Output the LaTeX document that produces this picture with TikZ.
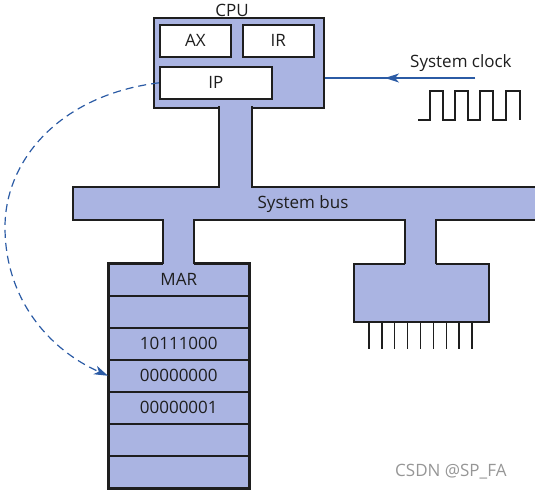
\documentclass[tikz,border=0pt]{standalone}
\usepackage{fontspec}
\setmainfont{Open Sans}
\usetikzlibrary{arrows.meta}
\definecolor{busfill}{RGB}{170,180,226}
\definecolor{linec}{RGB}{30,30,30}
\definecolor{arrowblue}{RGB}{43,91,165}
\definecolor{wmgray}{RGB}{150,150,150}
\begin{document}
\begin{tikzpicture}[x=1pt,y=-1pt,
  font=\fontsize{17}{20}\selectfont,
  outer/.style={draw=linec, line width=2pt, fill=busfill, inner sep=0pt, anchor=north west},
  reg/.style={draw=linec, line width=1.6pt, fill=white, inner sep=0pt, anchor=north west, minimum height=32pt, text=linec},
  cell/.style={draw=linec, line width=1.5pt, fill=busfill, minimum width=140pt, minimum height=32pt, inner sep=0pt, anchor=north west, text=linec},
  side/.style={draw=linec, line width=2pt},
  pin/.style={draw=linec, line width=1.3pt},
  lbl/.style={anchor=base, inner sep=0pt, text=linec},
  blueline/.style={draw=arrowblue, line width=1.2pt},
  tip/.style={-{Stealth[length=14pt,width=9pt,inset=4pt]}}
]
\useasboundingbox (0,0) rectangle (535,490);

% system bus
\fill[busfill] (73,187) rectangle (540,220);
\draw[side] (540,187) -- (73,187) -- (73,220) -- (540,220);
\node[lbl] (buslabel) at (303,208) {System bus};

% CPU
\node[outer, minimum width=170pt, minimum height=90pt] (cpu) at (153,17) {};
\node[lbl] (cpulabel) at (232,16) {CPU};
\node[reg, minimum width=71pt] (ax) at (159,24) {AX};
\node[reg, minimum width=71pt] (ir) at (242,24) {IR};
\node[reg, minimum width=112pt] (ip) at (159,66) {IP};

% CPU stem
\fill[busfill] (219,105.5) rectangle (252,188.5);
\draw[side] (219,106) -- (219,188);
\draw[side] (252,106) -- (252,188);

% memory
\node[cell] (m0) at (108,263) {MAR};
\node[cell] (m1) at (108,295) {};
\node[cell] (m2) at (108,327) {10111000};
\node[cell] (m3) at (108,359) {00000000};
\node[cell] (m4) at (108,391) {00000001};
\node[cell] (m5) at (108,423) {};
\node[cell] (m6) at (108,455) {};
\draw[side] (m0.north west) rectangle (m6.south east);

% memory stem
\fill[busfill] (163,218.5) rectangle (194,264.5);
\draw[side] (163,219) -- (163,264);
\draw[side] (194,219) -- (194,264);

% device
\node[outer, minimum width=135pt, minimum height=58pt] (dev) at (353,263) {};
\fill[busfill] (405,218.5) rectangle (436,264.5);
\draw[side] (405,219) -- (405,264);
\draw[side] (436,219) -- (436,264);
\foreach \i in {0,...,8} {
  \draw[pin] ({369+12.875*\i},322) -- ({369+12.875*\i},349);
}

% system clock
\node[lbl, anchor=base west] (clklabel) at (410,67.5) {System clock};
\coordinate (clk) at (475,78);
\coordinate (clkmid) at (385,78);
\draw[blueline] (clk) -- (cpu.east |- clk);
\draw[blueline, tip] (clk) -- (clkmid);
\draw[pin, line join=miter] (418,120) -- (430,120) -- (430,91) -- (443,91) -- (443,120)
  -- (455,120) -- (455,91) -- (468,91) -- (468,120) -- (480,120) -- (480,91)
  -- (493,91) -- (493,120) -- (506,120) -- (506,91) -- (520,91) -- (520,120);

% dashed pointer from IP to memory
\draw[blueline, dash pattern=on 8pt off 5pt, tip]
  (ip.west) .. controls (60,95) and (5,160) .. (5,227)
  .. controls (5,300) and (50,350) .. (m3.west);

% watermark
\node[anchor=base west, inner sep=0pt, text=wmgray] (wm) at (395,476.5) {CSDN @SP\_FA};
\end{tikzpicture}
\end{document}
